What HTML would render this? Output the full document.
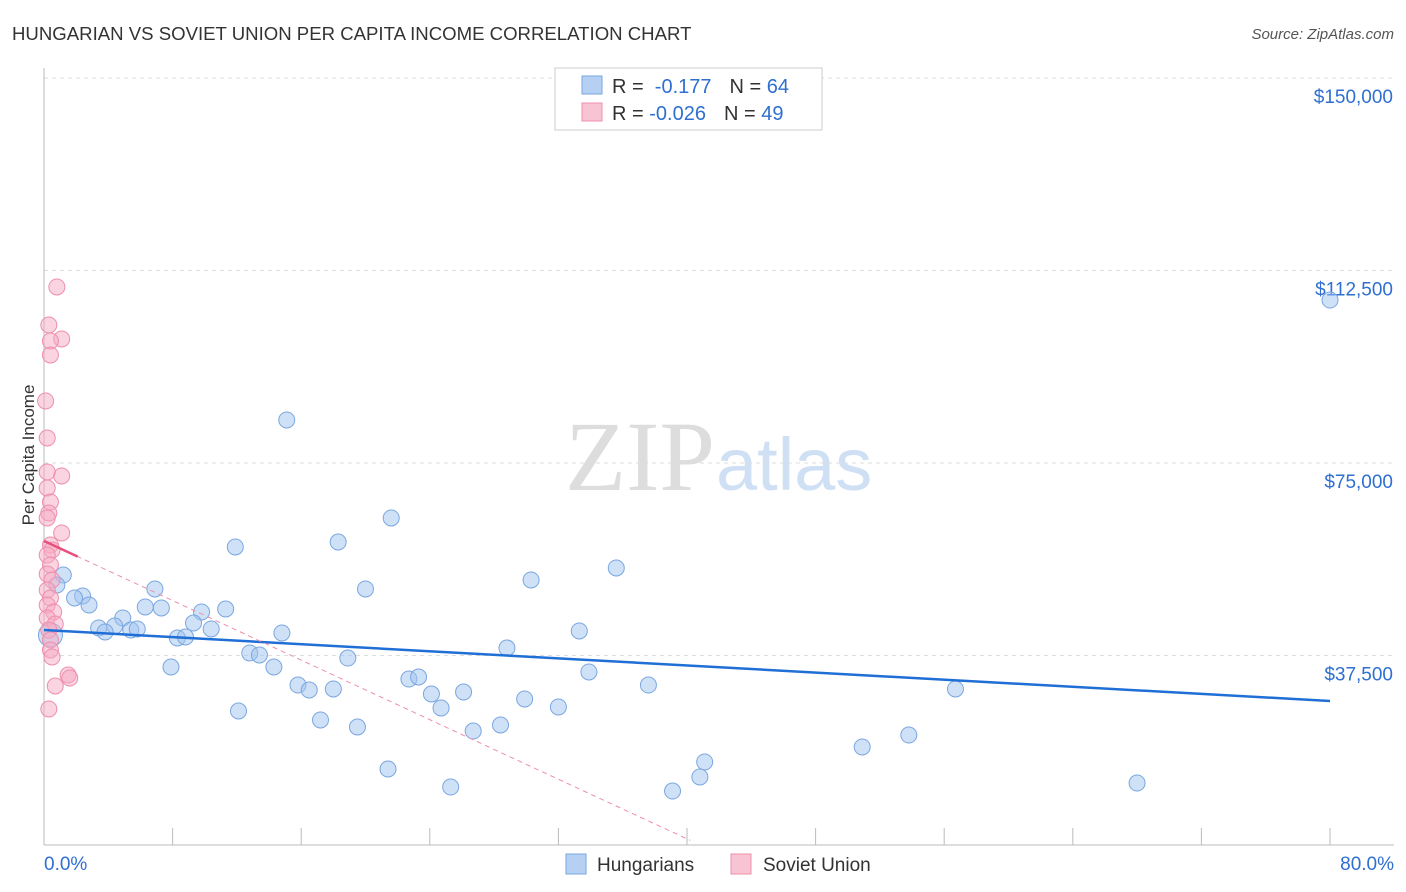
<!DOCTYPE html>
<html><head><meta charset="utf-8"><style>
body{margin:0;background:#fff;font-family:"Liberation Sans",sans-serif;}
svg{display:block}
</style></head><body>
<svg id="chart" width="1406" height="892">
<text x="12" y="40" font-size="18.6" fill="#333">HUNGARIAN VS SOVIET UNION PER CAPITA INCOME CORRELATION CHART</text>
<text x="1394" y="39" font-size="15" fill="#555" font-style="italic" text-anchor="end">Source: ZipAtlas.com</text>
<text x="34" y="455" font-size="17" fill="#333" text-anchor="middle" transform="rotate(-90 34 455)">Per Capita Income</text>
<text x="715" y="490" font-size="100" fill="#ddd" text-anchor="end" font-family="Liberation Serif,serif">ZIP</text>
<text x="716" y="490" font-size="74" fill="#cfe0f5">atlas</text>
<g id="grid"></g><g id="marks"></g>
<g>
<rect x="555" y="68" width="267" height="62" fill="#fff" stroke="#ccc"/>
<rect x="582" y="76" width="20" height="18" fill="#b5d0f3" stroke="#7aa7e0"/>
<text x="612" y="93" font-size="20" fill="#333">R = <tspan fill="#2f6fd0">&#160;-0.177</tspan><tspan dx="18">N = </tspan><tspan fill="#2f6fd0">64</tspan></text>
<rect x="582" y="103" width="20" height="18" fill="#f8c4d3" stroke="#ee8fab"/>
<text x="612" y="120" font-size="20" fill="#333">R = <tspan fill="#2f6fd0">-0.026</tspan><tspan dx="18">N = </tspan><tspan fill="#2f6fd0">49</tspan></text>
</g>
<g>
<rect x="566" y="854" width="20" height="20" fill="#b5d0f3" stroke="#7aa7e0"/>
<text x="597" y="871" font-size="19" fill="#333">Hungarians</text>
<rect x="731" y="854" width="20" height="20" fill="#f8c4d3" stroke="#ee8fab"/>
<text x="763" y="871" font-size="19" fill="#333">Soviet Union</text>
</g>
<text x="44" y="870" font-size="19" fill="#2f6fd0">0.0%</text>
<text x="1394" y="870" font-size="19" fill="#2f6fd0" text-anchor="end">80.0%</text>
</svg>
<script>
const yTicks=[150000,112500,75000,37500];
const yTickLabels=["$150,000","$112,500","$75,000","$37,500"];
const xTicks=[0,8,16,24,32,40,48,56,64,72,80];
const hungX=[80,15.1,21.6,18.3,11.9,35.6,30.3,20.0,6.9,1.2,0.8,2.4,1.9,2.8,6.3,7.3,11.3,9.8,4.9,9.3,3.4,4.4,3.8,5.4,5.8,10.4,14.8,33.3,8.3,8.8,0.4,28.8,12.8,13.4,18.9,7.9,14.3,33.9,22.7,23.3,37.6,15.8,16.5,18.0,24.1,26.1,56.7,29.9,24.7,32.0,12.1,17.2,19.5,28.4,26.7,53.8,50.9,41.1,21.4,40.8,68.0,25.3,39.1];
const hungY=[106750,83380,64290,59610,58640,54550,52210,50460,50460,53180,51240,49100,48700,47340,46950,46760,46560,45980,44810,43830,42860,43250,42080,42470,42670,42670,41890,42280,40910,41110,41500,38960,37990,37600,37010,35260,35260,34290,32920,33310,31750,31750,30780,30980,30000,30390,30980,29030,27280,27470,26690,24940,23570,23960,22790,22010,19680,16760,15390,13830,12660,11880,11100];
const sovX=[0.8,0.3,1.1,0.4,0.4,0.1,0.2,1.1,0.2,0.2,0.4,0.3,0.2,1.1,0.4,0.5,0.2,0.4,0.2,0.5,0.2,0.4,0.2,0.6,0.2,0.7,0.3,0.4,0.4,0.5,1.5,1.6,0.7,0.3];
const sovY=[109290,101890,99160,98770,96040,87080,79870,72470,73250,70130,67400,65260,64290,61370,59030,58060,57080,55140,53380,52210,50260,48700,47340,45980,44810,43640,42470,40520,38570,37210,33700,33120,31560,27080];
const hungTrend=[42470,28640];
const sovTrend=[59810,-1450.5];
const X=v=>44+v/80*1286, Y=v=>78+(150000-v)/37500*192.5;
const NS="http://www.w3.org/2000/svg";
function mk(t,a,p){const e=document.createElementNS(NS,t);for(const k in a)e.setAttribute(k,a[k]);p.appendChild(e);return e;}
const g=document.getElementById('grid'),m=document.getElementById('marks');
yTicks.forEach((t,i)=>{
 const l=mk('line',{x1:44,x2:1394,y1:Y(t),y2:Y(t),stroke:'#ddd','stroke-dasharray':'4,4'},g);
 
 
 const tx=mk('text',{x:1393,y:Y(t)+25,'font-size':19,fill:'#2f6fd0','text-anchor':'end'},g);tx.textContent=yTickLabels[i];
 
 
});
mk('line',{x1:44,x2:44,y1:68,y2:845,stroke:'#bbb'},g);
mk('line',{x1:44,x2:1394,y1:845,y2:845,stroke:'#bbb'},g);
xTicks.forEach(t=>{const l=mk('line',{x1:X(t),x2:X(t),y1:828,y2:845,stroke:'#bbb'},g);
 
 });
hungX.forEach((x,i)=>{const c=mk('circle',{cx:X(x),cy:Y(hungY[i]),r:i==30?12:8,fill:'rgba(160,196,240,0.5)',stroke:'#7aa7e0','stroke-width':1},m);
 
 });
sovX.forEach((x,i)=>{const c=mk('circle',{cx:X(x),cy:Y(sovY[i]),r:8,fill:'rgba(245,170,195,0.5)',stroke:'#ee8fab','stroke-width':1},m);
 
 });
const hl=mk('line',{x1:X(0),y1:Y(hungTrend[0]),x2:X(80),y2:Y(hungTrend[1]),stroke:'#1f6fd6','stroke-width':2.5},m);


const xe=40.2;
const sd=mk('line',{x1:X(0),y1:Y(sovTrend[0]),x2:X(xe),y2:Y(sovTrend[0]+sovTrend[1]*xe),stroke:'#ee8fab','stroke-width':1,'stroke-dasharray':'5,4'},m);


const ss=mk('line',{x1:X(0),y1:Y(sovTrend[0]),x2:X(2.1),y2:Y(sovTrend[0]+sovTrend[1]*2.1),stroke:'#e8507c','stroke-width':2.5},m);


</script>
</body></html>
